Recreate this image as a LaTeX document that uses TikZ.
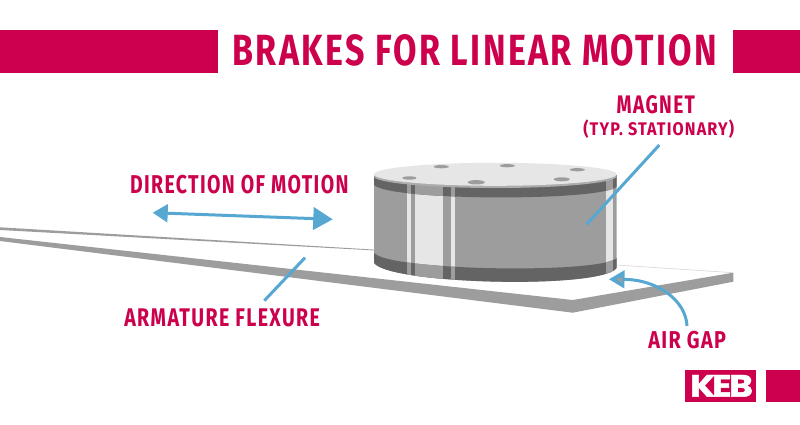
\documentclass[tikz,border=0pt]{standalone}
\usepackage{fontspec}
\setmainfont{Fira Sans}
\newfontfamily\logofont[FakeBold=1.6]{Poppins}
\usetikzlibrary{arrows.meta}
\definecolor{kebred}{HTML}{CC004D}
\definecolor{kebblue}{HTML}{56A8D3}
\definecolor{midgray}{HTML}{9D9D9D}
\definecolor{darkgray}{HTML}{646464}
\definecolor{lightgray}{HTML}{E6E6E6}
\newcommand{\fitted}[3]{\resizebox{#1pt}{#2pt}{\addfontfeature{LetterSpace=7}\bfseries #3}}
\tikzset{
  x=1pt,y=-1pt,
  redbox/.style={fill=kebred,draw=none},
  lab/.style={text=kebred,inner sep=0pt,outer sep=0pt,anchor=base west},
  pointer/.style={draw=kebblue,line width=3pt},
  hole/.style={fill=midgray,draw=none},
}
\begin{document}
\begin{tikzpicture}
\useasboundingbox (0,0) rectangle (800,425);
\fill[white] (0,0) rectangle (800,425);
% banners
\fill[redbox] (0,30) rectangle (218,73);
\fill[redbox] (733,30) rectangle (800,73);
\fill[redbox] (684.5,369.5) rectangle (756,402);
\fill[redbox] (766,369.5) rectangle (800,402);
\node[inner sep=0pt,anchor=base west,text=white] (logo) at (690,396.7)
  {\resizebox{62.7pt}{21.7pt}{\logofont\bfseries K\kern-.09em E\kern-.07em B}};
% labels
\node[lab] (title) at (232.5,66) {\fitted{484.5}{31}{BRAKES FOR LINEAR MOTION}};
\node[lab] (direction) at (130,193.3) {\fitted{218.5}{18.3}{DIRECTION OF MOTION}};
\node[lab] (flexure) at (124.3,326) {\fitted{195.7}{17.7}{ARMATURE FLEXURE}};
\node[lab] (airgap) at (648.3,348.3) {\fitted{77.7}{17.3}{AIR GAP}};
\node[lab] (magnet) at (616.7,113.3) {\fitted{78.3}{18}{MAGNET}};
\node[lab] (typ) at (583.3,135) {\fitted{150.7}{15.7}{(TYP. STATIONARY)}};
% plate
\fill[midgray] (0,227.3) -- (374,249.6) -- (374,250.4) -- (0,230) -- cycle;
\fill[midgray] (0,237) -- (572.7,300) -- (733.3,272.7) -- (733.3,281.7) -- (572.7,312.7) -- (0,241) -- cycle;
\draw[lightgray!85!gray,line width=.6pt] (616.7,265) -- (733,272.7);
% cylinder body
\begin{scope}
\clip (374,176.7) -- (374,263) .. controls (390,284.5) and (601,289.5) .. (616.7,268) -- (616.7,175) -- cycle;
\fill[midgray] (370,160) rectangle (620,290);
\fill[lightgray] (407,160) rectangle (411,290);
\fill[lightgray] (415,160) rectangle (443,290);
\fill[lightgray] (451,160) rectangle (455,290);
\fill[lightgray] (606,160) rectangle (613.3,290);
% upper band
\begin{scope}
\clip (374,170) -- (374,185) .. controls (390,201) and (601,201.5) .. (616.7,186.7) -- (616.7,170) -- cycle;
\fill[darkgray] (370,160) rectangle (620,210);
\fill[midgray] (407,160) rectangle (411,210);
\fill[midgray] (415,160) rectangle (443,210);
\fill[midgray] (451,160) rectangle (455,210);
\fill[midgray] (606,160) rectangle (613.3,210);
\end{scope}
% lower band
\begin{scope}
\clip (374,253) .. controls (390,271) and (601,274) .. (616.7,258) -- (616.7,295) -- (374,295) -- cycle;
\fill[darkgray] (370,240) rectangle (620,295);
\fill[midgray] (407,240) rectangle (411,295);
\fill[midgray] (415,240) rectangle (443,295);
\fill[midgray] (451,240) rectangle (455,295);
\fill[midgray] (606,240) rectangle (613.3,295);
\end{scope}
\end{scope}
% top
\fill[midgray!85!white] (495.3,176.3) ellipse [x radius=121.4,y radius=11.7];
\fill[lightgray] (495.3,174.3) ellipse [x radius=121.4,y radius=11.5];
\fill[hole] (409.3,178) ellipse [x radius=7,y radius=1.7];
\fill[hole] (441.3,166.7) ellipse [x radius=7.5,y radius=1.6];
\fill[hole] (507.3,165.7) ellipse [x radius=7.5,y radius=1.6];
\fill[hole] (577.3,169.7) ellipse [x radius=7.5,y radius=1.6];
\fill[hole] (561.7,179.3) ellipse [x radius=8,y radius=2];
\fill[hole] (476.3,182.3) ellipse [x radius=8.5,y radius=2.2];
% connectors
\coordinate (dirL) at (152.7,212.7);
\coordinate (dirR) at (332.7,219.3);
\draw[pointer,{Triangle[length=15pt,width=17.7pt]}-{Triangle[length=19.4pt,width=22.4pt]}] (dirL) -- (dirR);
\coordinate (flexA) at (305,257.7);
\coordinate (flexB) at (264.3,300.7);
\draw[pointer] (flexA) -- (flexB);
\coordinate (magA) at (659.3,145);
\coordinate (magB) at (586.7,224.3);
\draw[pointer] (magA) -- (magB);
\coordinate (gapA) at (687,326);
\coordinate (gapB) at (609,279.3);
\draw[pointer,-{Triangle[length=15.5pt,width=17.6pt]}] (gapA) .. controls (686,301) and (658,279.5) .. (gapB);
\fill[midgray] (616.7,279.3) -- (622.3,276.7) -- (622.3,283.3) -- cycle;
\end{tikzpicture}
\end{document}
